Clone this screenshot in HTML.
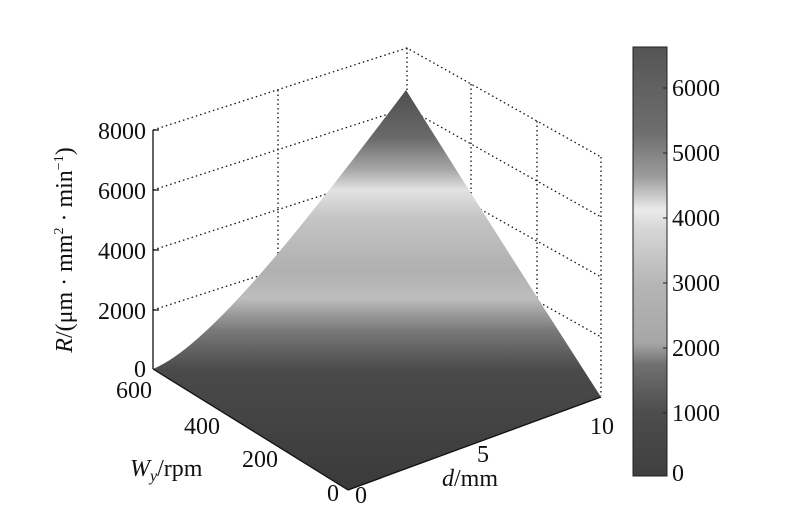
<!DOCTYPE html>
<html><head><meta charset="utf-8"><style>
html,body{margin:0;padding:0;background:#fff}
svg{display:block}
text{font-family:"Liberation Serif",serif;fill:#111}
</style></head><body>
<svg width="800" height="511" viewBox="0 0 800 511" xmlns="http://www.w3.org/2000/svg">
<defs>
<linearGradient id="sg" x1="0" y1="90" x2="0" y2="490" gradientUnits="userSpaceOnUse">
<stop offset="0" stop-color="#4e4e4e"/>
<stop offset="0.12" stop-color="#6a6a6a"/>
<stop offset="0.2" stop-color="#a8a8a8"/>
<stop offset="0.25" stop-color="#e2e2e2"/>
<stop offset="0.32" stop-color="#c4c4c4"/>
<stop offset="0.45" stop-color="#b0b0b0"/>
<stop offset="0.52" stop-color="#bdbdbd"/>
<stop offset="0.6" stop-color="#7a7a7a"/>
<stop offset="0.7" stop-color="#4a4a4a"/>
<stop offset="1" stop-color="#3a3a3a"/>
</linearGradient>
<linearGradient id="cg" x1="0" y1="1" x2="0" y2="0">
<stop offset="0" stop-color="#3f3f3f"/>
<stop offset="0.15" stop-color="#4d4d4d"/>
<stop offset="0.26" stop-color="#707070"/>
<stop offset="0.31" stop-color="#a6a6a6"/>
<stop offset="0.45" stop-color="#b6b6b6"/>
<stop offset="0.58" stop-color="#d8d8d8"/>
<stop offset="0.62" stop-color="#ebebeb"/>
<stop offset="0.7" stop-color="#9a9a9a"/>
<stop offset="0.8" stop-color="#6e6e6e"/>
<stop offset="1" stop-color="#555"/>
</linearGradient>
</defs>
<g stroke="#111" stroke-width="1.3" stroke-dasharray="1.5,3" fill="none">
<polyline points="153,130 407,48 601,157"/>
<polyline points="153,190 407,108 601,217"/>
<polyline points="153,250 407,168 601,277"/>
<polyline points="153,310 407,228 601,337"/>
<line x1="407" y1="48" x2="407" y2="287"/>
<line x1="601" y1="157" x2="601" y2="396"/>
<line x1="278" y1="90" x2="278" y2="329"/>
<line x1="471" y1="84" x2="471" y2="323"/>
<line x1="537" y1="121" x2="537" y2="360"/>
</g>
<path d="M153,369 C210,345 300,230 406,90 Q500,240 601,397 L348,490 Z" fill="url(#sg)"/>
<g stroke="#111" stroke-width="1.3" fill="none">
<line x1="153" y1="130" x2="153" y2="369"/>
<line x1="153" y1="369" x2="348" y2="490"/>
<line x1="348" y1="490" x2="601" y2="397"/>
<line x1="153" y1="130" x2="159" y2="130"/><line x1="153" y1="190" x2="159" y2="190"/>
<line x1="153" y1="250" x2="159" y2="250"/><line x1="153" y1="310" x2="159" y2="310"/>
</g>
<g font-size="24" text-anchor="end">
<text x="146" y="139">8000</text><text x="146" y="199">6000</text>
<text x="146" y="259">4000</text><text x="146" y="319">2000</text>
<text x="146" y="377">0</text>
<text x="152" y="398">600</text><text x="220" y="434">400</text>
<text x="278" y="467">200</text><text x="339" y="501">0</text>
</g>
<g font-size="24">
<text x="355" y="503">0</text><text x="477" y="462">5</text><text x="590" y="434">10</text>
<text x="130" y="476"><tspan font-style="italic">W</tspan><tspan font-style="italic" font-size="16" dy="5">y</tspan><tspan dy="-5">/rpm</tspan></text>
<text x="442" y="486"><tspan font-style="italic">d</tspan>/mm</text>
<text transform="translate(72,250) rotate(-90)" text-anchor="middle"><tspan font-style="italic">R</tspan>/(μm · mm<tspan font-size="14" dy="-9">2</tspan><tspan dy="9"> · min</tspan><tspan font-size="14" dy="-9">−1</tspan><tspan dy="9">)</tspan></text>
</g>
<rect x="633" y="47" width="34" height="429" fill="url(#cg)" stroke="#222" stroke-width="1"/>
<g stroke="#222" stroke-width="1">
<line x1="663" y1="88" x2="667" y2="88"/><line x1="663" y1="153" x2="667" y2="153"/>
<line x1="663" y1="218" x2="667" y2="218"/><line x1="663" y1="283" x2="667" y2="283"/>
<line x1="663" y1="348" x2="667" y2="348"/><line x1="663" y1="413" x2="667" y2="413"/>
</g>
<g font-size="24">
<text x="672" y="96">6000</text><text x="672" y="161">5000</text>
<text x="672" y="226">4000</text><text x="672" y="291">3000</text>
<text x="672" y="356">2000</text><text x="672" y="421">1000</text>
<text x="672" y="481">0</text>
</g>
</svg>
</body></html>
